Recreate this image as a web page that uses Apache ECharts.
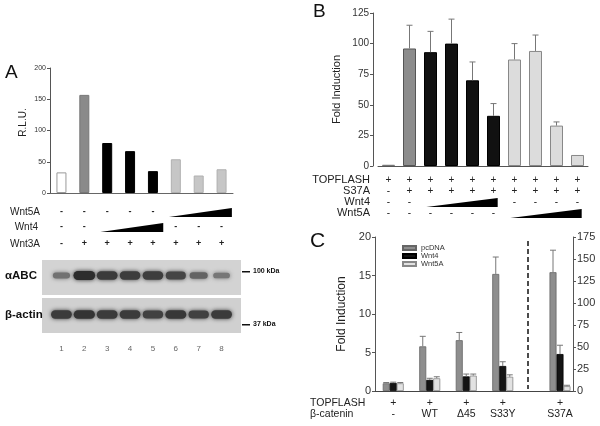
<!DOCTYPE html>
<html><head><meta charset="utf-8">
<script src="https://cdn.jsdelivr.net/npm/echarts@6/dist/echarts.min.js"></script>
<style>html,body{margin:0;padding:0;background:#fff}#c{width:600px;height:426px}</style>
</head><body><div id="c"></div>
<script>
// ---------- Panel A data ----------
const aLanes = ['1','2','3','4','5','6','7','8'];
const aRLU = [33, 157, 80, 67, 35, 54, 28, 38];
const aWnt5A = ['-','-','-','-','-','','',''];
const aWnt4  = ['-','-','','','','-','-','-'];
const aWnt3A = ['-','+','+','+','+','+','+','+'];
const aWedges = [[5, 7, 0], [2, 4, 1]]; // [first lane idx, last lane idx, row (0=Wnt5A,1=Wnt4)]
const blotRows = ['β-actin', 'αABC'];
const abcBand   = [0.5, 1.0, 0.9, 0.88, 0.88, 0.82, 0.6, 0.45];
const actinBand = [0.9, 0.95, 0.9, 0.9, 0.85, 0.92, 0.85, 0.9];
// ---------- Panel B data ----------
const bCats = ['1','2','3','4','5','6','7','8','9','10'];
const bFold = [1, 96, 93, 100, 70, 41, 87, 94, 33, 9];
const bErr  = [null, 115, 110, 120, 85, 51, 100, 107, 36, null];
const bTop   = ['+','+','+','+','+','+','+','+','+','+'];
const bS37A  = ['-','+','+','+','+','+','+','+','+','+'];
const bWnt4  = ['-','-','','','','','-','-','-','-'];
const bWnt5A = ['-','-','-','-','-','-','','','',''];
const bWedges = [[2, 5, 0], [6, 9, 1]]; // row 0=Wnt4, 1=Wnt5A
// ---------- Panel C data ----------
const cGroups = ['-', 'WT', 'Δ45', 'S33Y'];
const cTop = ['+','+','+','+'];
const cPc   = [1.0, 5.8, 6.6, 15.2];  const cPcErr = [1.1, 7.1, 7.6, 17.4];
const cW4   = [1.05, 1.45, 1.9, 3.25]; const cW4Err = [1.15, 1.65, 2.2, 3.8];
const cW5   = [1.0, 1.65, 2.0, 1.85]; const cW5Err = [1.1, 1.85, 2.2, 2.1];
const cRGroups = ['', 'S37A'];
const cRTop = ['', '+'];
const cRPc = [null, 135]; const cRPcErr = [null, 160];
const cRW4 = [null, 42];  const cRW4Err = [null, 52];
const cRW5 = [null, 5.5]; const cRW5Err = [null, 6.5];

// ---------- styles ----------
const FONT = 'Liberation Sans, Arial, Helvetica, sans-serif';
const aColors = ['#ffffff','#8a8a8a','#000','#000','#000','#c6c6c6','#c6c6c6','#c6c6c6'];
const aBorders = ['#999','#777','#000','#000','#000','#b0b0b0','#b0b0b0','#b0b0b0'];
const bColors = ['#999','#8c8c8c','#111','#111','#111','#111','#dcdcdc','#dcdcdc','#dcdcdc','#dcdcdc'];
const bBorders = ['#777','#555','#000','#000','#000','#000','#888','#888','#888','#888'];
const cColors = {pc:'#8e8e8e', w4:'#141414', w5:'#e2e2e2'};
const cBorders = {pc:'#666', w4:'#000', w5:'#888'};
const aRowOff = [19, 34, 51], bRowOff = [14, 25, 36, 47], cRowOff = [12, 23];

function rowAxis(grid, data, offset, name, o) {
  return {type:'category', gridIndex:grid, data, position:'bottom', offset,
    axisLine:{show:false}, axisTick:{show:false}, splitLine:{show:false},
    axisLabel:{interval:0, margin:0, verticalAlign:'middle', fontSize:o.fs, fontWeight:o.bold ? 'bold' : 'normal', color:'#222', fontFamily:FONT},
    name: name || '', nameLocation:'start', nameGap:o.gap || 0,
    nameTextStyle:{fontSize:o.nfs || o.fs, color:'#222', fontFamily:FONT, align:o.align || 'right', verticalAlign:'middle'}};
}
function mainX(grid, data, color) {
  return {type:'category', gridIndex:grid, data, axisLine:{lineStyle:{color, width:1}}, axisTick:{show:false}, axisLabel:{show:false}};
}
function valY(grid, max, interval, fs, name, gap, extra) {
  return Object.assign({type:'value', gridIndex:grid, min:0, max, interval,
    axisLine:{show:true, lineStyle:{color:'#555'}}, axisTick:{show:true, length:3, lineStyle:{color:'#555'}},
    splitLine:{show:false}, axisLabel:{fontSize:fs, color:'#333', margin:4, fontFamily:FONT},
    name, nameLocation:'middle', nameGap:gap, nameRotate:90,
    nameTextStyle:{fontSize:fs + 1, color:'#222', fontFamily:FONT}}, extra || {});
}
function errSeries(xi, yi, vals, errs, dx, color) {
  const data = [];
  vals.forEach((v, i) => { if (v != null && errs[i] != null) data.push([i, v, errs[i]]); });
  return {type:'custom', xAxisIndex:xi, yAxisIndex:yi, data, z:5, silent:true, clip:false,
    renderItem(params, api) {
      const x = api.value(0);
      const p0 = api.coord([x, api.value(1)]), p1 = api.coord([x, api.value(2)]);
      const cx = p0[0] + dx;
      return {type:'group', children:[
        {type:'line', shape:{x1:cx, y1:p0[1], x2:cx, y2:p1[1]}, style:{stroke:color, lineWidth:1}},
        {type:'line', shape:{x1:cx - 3, y1:p1[1], x2:cx + 3, y2:p1[1]}, style:{stroke:color, lineWidth:1}}]};
    }};
}
function wedgeSeries(xi, yi, wedges, offs, padL, padR, h) {
  return {type:'custom', xAxisIndex:xi, yAxisIndex:yi, clip:false, silent:true, z:5,
    data: wedges.map(w => [w[0], 0, w[1], w[2]]),
    renderItem(params, api) {
      const s = api.coord([api.value(0), 0]), e = api.coord([api.value(2), 0]);
      const bw = api.size([1, 0])[0];
      const yb = s[1] + offs[api.value(3)] + 5;
      const x0 = s[0] - padL * bw, x1 = e[0] + padR * bw;
      return {type:'polygon', shape:{points:[[x0, yb], [x1, yb], [x1, yb - h]]}, style:{fill:'#000'}};
    }};
}
function bandSeries(row, vals) {
  return {type:'custom', xAxisIndex:9, yAxisIndex:2, clip:false, silent:true, z:4,
    data: vals.map((v, i) => [i, row, v]),
    renderItem(params, api) {
      const p = api.coord([api.value(0), api.value(1)]);
      const I = api.value(2);
      const bw = api.size([1, 0])[0];
      const w = bw * (0.55 + 0.4 * I), h = 3 + 6 * I;
      const g = Math.round(180 - 135 * I);
      const col = 'rgb(' + g + ',' + g + ',' + g + ')';
      return {type:'rect', shape:{x:p[0] - w / 2, y:p[1] - h / 2, width:w, height:h, r:h / 2},
        style:{fill:col, shadowBlur:4, shadowColor:col}};
    }};
}

const aData = aRLU.map((v, i) => ({value:v, itemStyle:{color:aColors[i], borderColor:aBorders[i], borderWidth:1}}));
const bData = bFold.map((v, i) => ({value:v, itemStyle:{color:bColors[i], borderColor:bBorders[i], borderWidth:1}}));
function cBar(name, xi, yi, vals, key) {
  return {type:'bar', name, xAxisIndex:xi, yAxisIndex:yi, data:vals, barWidth:7, barGap:'0%',
    itemStyle:{color:cColors[key], borderColor:cBorders[key], borderWidth:0.8}};
}

const chart = echarts.init(document.getElementById('c'), null, {renderer:'canvas', width:600, height:426});
chart.setOption({
  animation:false,
  textStyle:{fontFamily:FONT},
  grid:[
    {left:50, top:68, width:183, height:125},   // A chart
    {left:378, top:13, width:210, height:153},  // B
    {left:50, top:256, width:183, height:78},   // blot
    {left:375, top:237, width:146, height:154}, // C left
    {left:521, top:237, width:52, height:154}   // C right
  ],
  legend:{data:['pcDNA','Wnt4','Wnt5A'], orient:'vertical', left:397, top:239, itemWidth:13, itemHeight:4, itemGap:0,
    icon:'rect', textStyle:{fontSize:7.5, color:'#333', lineHeight:6, fontFamily:FONT}, selectedMode:false},
  xAxis:[
    mainX(0, aLanes, '#666'),                                        //0
    rowAxis(0, aWnt5A, aRowOff[0], 'Wnt5A', {fs:9, nfs:10, gap:10, bold:true}), //1
    rowAxis(0, aWnt4,  aRowOff[1], 'Wnt4',  {fs:9, nfs:10, gap:12, bold:true}), //2
    rowAxis(0, aWnt3A, aRowOff[2], 'Wnt3A', {fs:9, nfs:10, gap:10, bold:true}), //3
    mainX(1, bCats, '#555'),                                         //4
    rowAxis(1, bTop,   bRowOff[0], 'TOPFLASH', {fs:10, nfs:11, gap:8}), //5
    rowAxis(1, bS37A,  bRowOff[1], 'S37A',     {fs:10, nfs:11, gap:8}), //6
    rowAxis(1, bWnt4,  bRowOff[2], 'Wnt4',     {fs:10, nfs:11, gap:8}), //7
    rowAxis(1, bWnt5A, bRowOff[3], 'Wnt5A',    {fs:10, nfs:11, gap:8}), //8
    {type:'category', gridIndex:2, data:aLanes, axisLine:{show:false}, axisTick:{show:false},
      axisLabel:{margin:15, verticalAlign:'middle', fontSize:8, color:'#666'}},  //9
    mainX(3, cGroups, '#444'),                                       //10
    rowAxis(3, cTop,    cRowOff[0], 'TOPFLASH',  {fs:10.5, gap:65, align:'left'}), //11
    rowAxis(3, cGroups, cRowOff[1], 'β-catenin', {fs:10.5, gap:65, align:'left'}), //12
    mainX(4, cRGroups, '#444'),                                      //13
    rowAxis(4, cRTop,    cRowOff[0], '', {fs:10.5}),                 //14
    rowAxis(4, cRGroups, cRowOff[1], '', {fs:10.5})                  //15
  ],
  yAxis:[
    valY(0, 200, 50, 7, 'R.L.U.', 22, {nameTextStyle:{fontSize:10, color:'#222', fontFamily:FONT, padding:[0,0,0,16]}}),
    valY(1, 125, 25, 10, 'Fold Induction', 31, {offset:5}),
    {type:'category', gridIndex:2, data:blotRows, axisLine:{show:false}, axisTick:{show:false},
      axisLabel:{align:'left', margin:45, fontSize:11.5, fontWeight:'bold', color:'#111'}},
    valY(3, 20, 5, 11, 'Fold Induction', 27),
    valY(4, 175, 25, 11, '', 0, {position:'right', axisLine:{show:true, lineStyle:{color:'#555'}}})
  ],
  series:[
    {type:'bar', xAxisIndex:0, yAxisIndex:0, data:aData, barWidth:10},
    wedgeSeries(0, 0, aWedges, [aRowOff[0], aRowOff[1]], 0.3, 0.45, 9),
    {type:'bar', xAxisIndex:4, yAxisIndex:1, data:bData, barWidth:13},
    errSeries(4, 1, bFold, bErr, 0, '#777'),
    wedgeSeries(4, 1, bWedges, [bRowOff[2], bRowOff[3]], 0.2, 0.2, 9),
    bandSeries(1, abcBand),
    bandSeries(0, actinBand),
    cBar('pcDNA', 10, 3, cPc, 'pc'), cBar('Wnt4', 10, 3, cW4, 'w4'), cBar('Wnt5A', 10, 3, cW5, 'w5'),
    errSeries(10, 3, cPc, cPcErr, -7, '#777'), errSeries(10, 3, cW4, cW4Err, 0, '#777'), errSeries(10, 3, cW5, cW5Err, 7, '#777'),
    cBar('pcDNA', 13, 4, cRPc, 'pc'), cBar('Wnt4', 13, 4, cRW4, 'w4'), cBar('Wnt5A', 13, 4, cRW5, 'w5'),
    errSeries(13, 4, cRPc, cRPcErr, -7, '#777'), errSeries(13, 4, cRW4, cRW4Err, 0, '#777'), errSeries(13, 4, cRW5, cRW5Err, 7, '#777')
  ],
  graphic:[
    {type:'text', left:5, top:63, style:{text:'A', fontSize:19, fill:'#111', fontFamily:FONT}},
    {type:'text', left:313, top:2, style:{text:'B', fontSize:19, fill:'#111', fontFamily:FONT}},
    {type:'text', left:310, top:231, style:{text:'C', fontSize:21, fill:'#111', fontFamily:FONT}},
    {type:'rect', left:42, top:260, shape:{width:199, height:35}, style:{fill:'#d3d3d3'}, z:-1},
    {type:'rect', left:42, top:298, shape:{width:199, height:35}, style:{fill:'#d0d0d0'}, z:-1},
    {type:'rect', left:242, top:271, shape:{width:8, height:1.5}, style:{fill:'#111'}},
    {type:'text', left:253, top:268, style:{text:'100 kDa', fontSize:7, fontWeight:'bold', fill:'#111', fontFamily:FONT}},
    {type:'rect', left:242, top:324, shape:{width:8, height:1.5}, style:{fill:'#111'}},
    {type:'text', left:253, top:321, style:{text:'37 kDa', fontSize:7, fontWeight:'bold', fill:'#111', fontFamily:FONT}},
    {type:'line', shape:{x1:528, y1:241, x2:528, y2:389}, style:{stroke:'#111', lineWidth:1.5, lineDash:[5, 3]}}
  ]
});
</script></body></html>
